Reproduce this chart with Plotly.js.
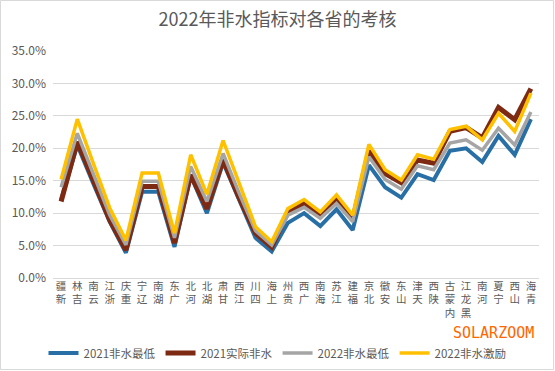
<!DOCTYPE html>
<html>
<head>
<meta charset="utf-8">
<script src="https://cdn.plot.ly/plotly-3.0.1.min.js"></script>
<style>html,body{margin:0;padding:0;background:#fff;}#chart{width:555px;height:371px;}</style>
</head>
<body>
<div id="chart"></div>
<script>
const provinces = ["新疆","吉林","云南","浙江","重庆","辽宁","湖南","广东","河北","湖北","甘肃","江西","四川","上海","贵州","广西","海南","江苏","福建","北京","安徽","山东","天津","陕西","内蒙古","黑龙江","河南","宁夏","山西","青海"];
const min2021 = [12.0,20.5,14.5,8.7,3.9,13.3,13.3,4.8,15.8,10.0,17.8,12.0,6.2,4.1,8.5,10.0,8.0,10.6,7.4,17.4,14.0,12.4,16.0,15.1,19.6,20.0,17.9,21.9,19.0,24.5];
const actual2021 = [11.8,21.0,15.0,8.9,4.3,14.1,14.1,5.4,15.9,10.7,18.2,12.3,6.9,4.8,10.2,11.5,9.7,12.1,9.0,19.6,16.1,14.7,18.2,17.7,22.6,23.2,21.6,26.3,24.4,29.2];
const min2022 = [14.0,22.3,16.0,9.7,5.1,14.9,14.9,6.2,17.2,11.8,19.2,13.0,7.3,5.1,9.7,10.9,9.2,11.5,8.7,18.7,15.2,13.7,17.3,16.7,20.8,21.3,19.7,23.1,20.5,25.6];
const incentive2022 = [15.2,24.5,17.6,10.8,5.8,16.2,16.2,6.9,19.0,12.9,21.2,14.4,7.9,5.6,10.7,12.1,10.2,12.8,9.7,20.6,16.7,15.1,19.0,18.3,22.9,23.4,21.3,25.4,22.6,28.5];
const seriesNames = ["2021非水最低","2021实际非水","2022非水最低","2022非水激励"];
const yTicks = [0,5,10,15,20,25,30,35];

// vertical stacked labels (read bottom-to-top, characters upright)
const tickText = provinces.map(p => p.split("").reverse().join("<br>"));

const font = "Noto Sans CJK SC, Noto Sans, sans-serif";
const mk = (y, name, color, width) => ({
  x: provinces, y: y, name: name, type: "scatter", mode: "lines",
  line: {color: color, width: width, shape: "linear"},
  hoverinfo: "skip"
});

const data = [
  mk(min2021, seriesNames[0], "#276FA5", 4),
  mk(actual2021, seriesNames[1], "#7E2A12", 5),
  mk(min2022, seriesNames[2], "#A5A5A5", 3.5),
  mk(incentive2022, seriesNames[3], "#FFC000", 3.5)
];

const L = 53, R = 16, T = 51, B = 93, W = 555, H = 371;
const pw = W - L - R, ph = H - T - B;
const px = v => (v - L) / pw;
const py = v => (H - B - v) / ph;

const layout = {
  width: W, height: H,
  margin: {l: L, r: R, t: T, b: B, pad: 0},
  paper_bgcolor: "#ffffff", plot_bgcolor: "#ffffff",
  font: {family: font, color: "#595959", size: 12},
  title: {text: "2022年非水指标对各省的考核", font: {family: font, size: 18, color: "#595959"},
          x: 0.5, xref: "container", xanchor: "center", y: 1 - 20/371, yref: "container", yanchor: "middle"},
  xaxis: {
    type: "category", tickmode: "array", tickvals: provinces, ticktext: tickText,
    tickangle: 0, tickfont: {family: font, size: 10.5, color: "#595959"},
    showgrid: false, showline: false, zeroline: false, ticks: "", fixedrange: true,
    range: [-0.5, provinces.length - 0.5]
  },
  yaxis: {
    range: [0, 35], tickmode: "array", tickvals: yTicks,
    ticktext: yTicks.map(v => v.toFixed(1) + "%"),
    tickfont: {family: font, size: 12, color: "#595959"},
    gridcolor: "#D9D9D9", gridwidth: 1, zeroline: true, zerolinecolor: "#D9D9D9", zerolinewidth: 1,
    showline: false, ticks: "", ticklabelstandoff: 6, fixedrange: true
  },
  showlegend: true,
  legend: {
    orientation: "h", xref: "container", yref: "container", x: 0.5, xanchor: "center",
    y: 1 - 353/371, yanchor: "middle", font: {family: font, size: 11.5, color: "#595959"},
    bgcolor: "rgba(0,0,0,0)", tracegroupgap: 0, itemwidth: 30
  },
  annotations: [{
    text: "SOLARZOOM", xref: "paper", yref: "paper", x: px(493), y: py(333),
    xanchor: "center", yanchor: "middle", showarrow: false,
    font: {family: "DejaVu Sans Mono, monospace", size: 15, color: "#FF6600"}
  }],
  shapes: [{
    type: "rect", xref: "paper", yref: "paper",
    x0: px(0.5), x1: px(553.5), y0: py(369.5), y1: py(0.5),
    line: {color: "#D9D9D9", width: 1}, fillcolor: "rgba(0,0,0,0)", layer: "below"
  }]
};

Plotly.newPlot("chart", data, layout, {displayModeBar: false, staticPlot: true});
</script>
</body>
</html>
